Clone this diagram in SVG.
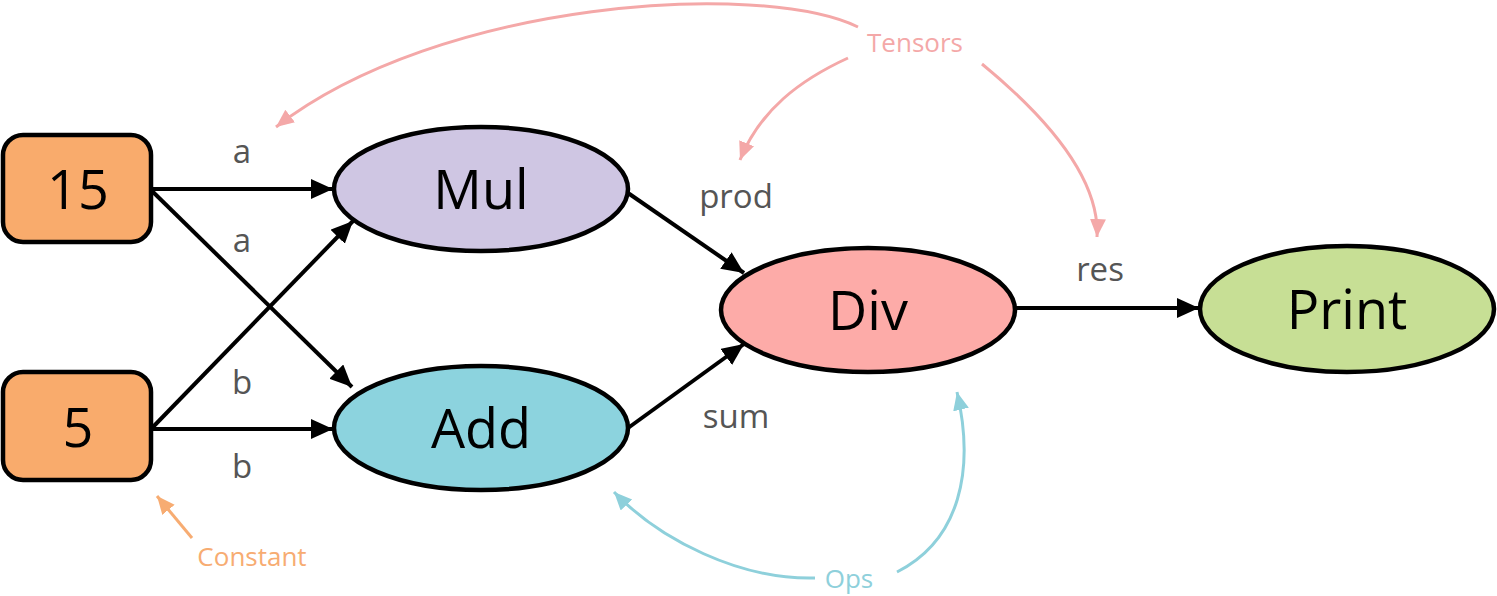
<svg xmlns="http://www.w3.org/2000/svg" width="1497" height="596" viewBox="0 0 1497 596">
<defs>
<style>
.node{stroke:#000;stroke-width:4.5}
.ntext{font-family:"Open Sans","Liberation Sans",sans-serif;font-size:54px;fill:#000;text-anchor:middle;dominant-baseline:central}
.lbl{font-family:"Open Sans","Liberation Sans",sans-serif;font-size:33px;fill:#555;text-anchor:middle}
.edge{stroke:#000;stroke-width:4;fill:none;marker-end:url(#ah)}
.ann{fill:none;stroke-width:3}
.pink{stroke:#F4A8A8;marker-end:url(#ahPink)}
.blue{stroke:#8ED0DB;marker-end:url(#ahBlue)}
.orng{stroke:#F7AC72;marker-end:url(#ahOrange)}
.atext{font-family:"Open Sans","Liberation Sans",sans-serif;font-size:26px;text-anchor:middle}
</style>
<marker id="ah" markerUnits="userSpaceOnUse" markerWidth="24" markerHeight="22" refX="22" refY="10" orient="auto"><path d="M0,0 L22,10 L0,20 z" fill="#000"/></marker>
<marker id="ahPink" markerUnits="userSpaceOnUse" markerWidth="20" markerHeight="18" refX="18" refY="8" orient="auto"><path d="M0,0 L18,8 L0,16 z" fill="#F4A8A8"/></marker>
<marker id="ahBlue" markerUnits="userSpaceOnUse" markerWidth="20" markerHeight="18" refX="18" refY="8" orient="auto"><path d="M0,0 L18,8 L0,16 z" fill="#8ED0DB"/></marker>
<marker id="ahOrange" markerUnits="userSpaceOnUse" markerWidth="20" markerHeight="18" refX="18" refY="8" orient="auto"><path d="M0,0 L18,8 L0,16 z" fill="#F7AC72"/></marker>
</defs>
<rect width="1497" height="596" fill="#fff"/>

<g id="connectors">
<line class="edge" x1="152" y1="189" x2="333" y2="189"/>
<line class="edge" x1="152" y1="191" x2="352" y2="387"/>
<line class="edge" x1="152" y1="428" x2="353" y2="221"/>
<line class="edge" x1="152" y1="429" x2="333" y2="429"/>
<line class="edge" x1="628" y1="193" x2="744" y2="273"/>
<line class="edge" x1="628" y1="428" x2="744" y2="344"/>
<line class="edge" x1="1016" y1="308" x2="1199" y2="308"/>
<text class="lbl" x="242" y="163">a</text>
<text class="lbl" x="242" y="252">a</text>
<text class="lbl" x="242" y="394">b</text>
<text class="lbl" x="242" y="478">b</text>
<text class="lbl" x="736" y="208">prod</text>
<text class="lbl" x="736" y="428">sum</text>
<text class="lbl" x="1100" y="281">res</text>
</g>

<g id="annotations">
<path class="ann pink" d="M858,27 C760,-20 440,0 276,127"/>
<path class="ann pink" d="M848,58 C800,80 760,110 740,160"/>
<path class="ann pink" d="M982,64 C1050,120 1100,180 1097,237"/>
<text class="atext" x="915" y="52" fill="#F4A8A8">Tensors</text>
<path class="ann blue" d="M815,578 C740,580 660,540 614,492"/>
<path class="ann blue" d="M897,572 C960,540 975,470 957,392"/>
<text class="atext" x="849" y="588" fill="#8ED0DB">Ops</text>
<path class="ann orng" d="M192,538 L157,496"/>
<text class="atext" x="252" y="566" fill="#F7AC72">Constant</text>
</g>

<g id="node-15">
<rect class="node" x="3" y="135" width="148" height="107" rx="20" fill="#F9AB6C"/>
<text class="ntext" x="78" y="188">15</text>
</g>
<g id="node-5">
<rect class="node" x="3" y="372" width="148" height="108" rx="20" fill="#F9AB6C"/>
<text class="ntext" x="78" y="426">5</text>
</g>
<g id="node-mul">
<ellipse class="node" cx="481" cy="189" rx="147" ry="62" fill="#CFC6E3"/>
<text class="ntext" x="481" y="188">Mul</text>
</g>
<g id="node-add">
<ellipse class="node" cx="481" cy="428" rx="147" ry="62" fill="#8CD3DE"/>
<text class="ntext" x="481" y="427">Add</text>
</g>
<g id="node-div">
<ellipse class="node" cx="868" cy="310" rx="147" ry="62" fill="#FDABA8"/>
<text class="ntext" x="868" y="309">Div</text>
</g>
<g id="node-print">
<ellipse class="node" cx="1347" cy="309" rx="147" ry="63" fill="#C7DF95"/>
<text class="ntext" x="1347" y="308">Print</text>
</g>
</svg>
